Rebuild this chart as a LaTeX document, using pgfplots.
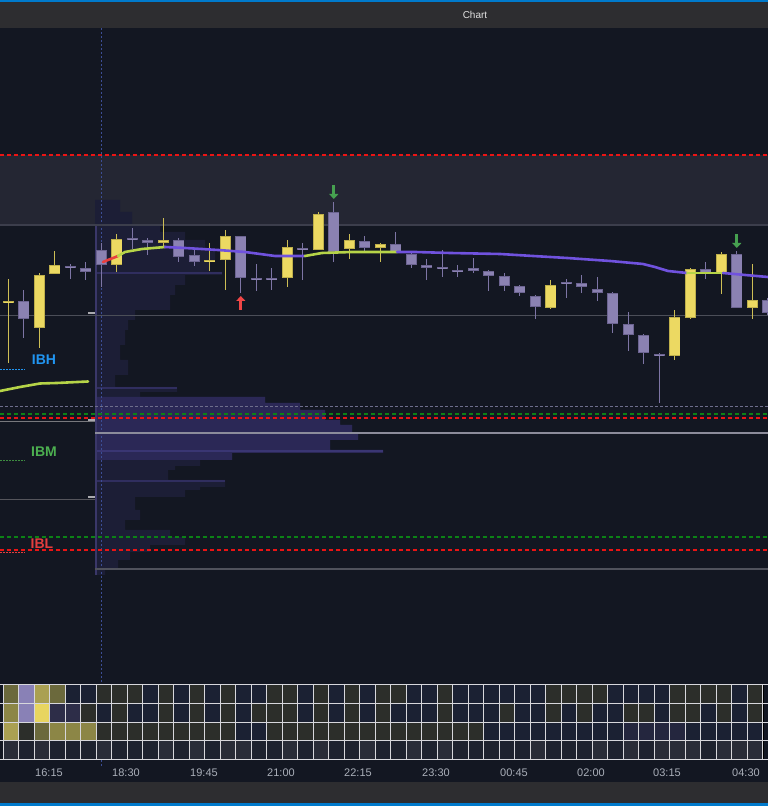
\documentclass[border=0pt]{standalone}
\usepackage{fontspec}
\setmainfont{Liberation Sans}
\usepackage{pgfplots}
\usepackage{pgfplotstable}
\pgfplotsset{compat=1.18}
\usetikzlibrary{arrows.meta}

\definecolor{bg}{RGB}{19,23,34}
\definecolor{barbg}{RGB}{45,45,48}
\definecolor{winblue}{RGB}{0,122,204}
\definecolor{band}{RGB}{36,38,51}
\definecolor{candY}{RGB}{236,217,98}
\definecolor{candP}{RGB}{139,130,178}
\definecolor{edgeY}{RGB}{190,175,75}
\definecolor{edgeP}{RGB}{108,100,145}
\definecolor{wickY}{RGB}{205,190,85}
\definecolor{wickP}{RGB}{125,117,165}
\definecolor{emaP}{RGB}{112,82,222}
\definecolor{emaG}{RGB}{182,212,72}
\definecolor{emaR}{RGB}{232,62,62}
\definecolor{lvlRed}{RGB}{235,20,20}
\definecolor{lvlGreen}{RGB}{12,130,22}
\definecolor{ibh}{RGB}{33,150,243}
\definecolor{ibm}{RGB}{76,175,80}
\definecolor{ibl}{RGB}{229,62,62}
\definecolor{prof}{RGB}{28,30,54}
\definecolor{profva}{RGB}{43,40,86}
\definecolor{gline}{RGB}{75,78,88}
\definecolor{ticktxt}{RGB}{170,175,185}

% candles, y = 806 - pixel row; bb/bt = body bottom/top, lo/hi = wick
\pgfplotstableread{
i  bb  bt  lo  hi
0  503 505 443 527
2  478 531 458 533
3  532 541 532 555
7  541 567 534 572
10 563 566 559 588
13 544 546 535 563
14 546 570 516 576
18 528 559 519 566
20 556 592 556 594
22 557 566 547 572
24 558 562 544 563
35 498 521 497 526
43 450 489 446 496
44 488 537 487 538
46 533 552 512 554
48 498 506 487 542
}\bull

\pgfplotstableread{
i  bb  bt  lo  hi
1  487 505 468 516
4  538 540 527 542
5  534 538 526 544
6  541 556 519 563
8  566 568 557 578
9  563 566 551 568
11 549 566 544 568
12 544 551 540 558
15 528 570 513 570
16 526 528 515 542
17 526 528 516 538
19 556 558 526 563
21 554 594 544 604
23 558 565 555 570
25 554 562 553 574
26 541 552 538 554
27 538 541 526 547
28 537 539 529 556
29 534 536 529 541
30 535 538 533 548
31 530 535 515 536
32 520 530 515 533
33 513 520 510 521
34 499 510 487 511
36 522 524 508 527
37 519 523 513 531
38 513 517 505 529
39 482 513 473 514
40 471 482 455 494
41 453 471 442 472
42 450 452 403 453
45 533 537 527 544
47 498 552 498 555
49 493 506 491 508
}\bear

% heatmap cells, rows r0 (top) .. r3 (bottom)
\pgfplotstableread{
c  r0 r1 r2 r3
-1 U U Y G
0  M V Y H
1  L L O G
2  Y B M H
3  M P V G
4  N P V G
5  N O V G
6  O N O H
7  O O O G
8  O N O G
9  N N O G
10 O O O H
11 N N O G
12 O O O H
13 N N O G
14 O O O H
15 N N N H
16 N O N G
17 O O O G
18 O O O H
19 N N O G
20 O O O H
21 N N O G
22 O O O G
23 N N O H
24 O O O G
25 O N O G
26 N N O H
27 N N O G
28 O O O H
29 N N O G
30 N N O G
31 N N N G
32 N O N G
33 N N N G
34 N N N H
35 O O N G
36 O N N G
37 O O N G
38 O N N H
39 N N N G
40 N O Q H
41 N O Q G
42 N N Q H
43 O O Q H
44 O O N H
45 O N N G
46 O O N H
47 N N N H
48 O O N H
49 N N N G
}\heat

\pgfplotsset{
  candle/.style 2 args={draw=none, mark=none, forget plot,
    error bars/.cd, y dir=plus, y explicit, error mark=none,
    error bar style={draw=#1, line width=#2}},
  ema/.style={draw=#1, line width=2.6pt, line cap=round, line join=round},
  cell/.style={scatter, only marks, mark=square*, mark size=7.9pt,
    mark options={yscale=1.2}, scatter src=explicit symbolic}
}
\tikzset{
  lbl/.style={font=\fontsize{14}{14}\selectfont\bfseries},
  tlbl/.style={text=ticktxt, font=\fontsize{11}{11}\selectfont}
}

\begin{document}
\begin{tikzpicture}
% ---------- frame, levels, profile (pixel frame) ----------
\begin{axis}[at={(0pt,0pt)}, anchor=south west, width=768pt, height=806pt,
    scale only axis, hide axis, xmin=0, xmax=768, ymin=0, ymax=806]
  \addplot[fill=bg, draw=none] coordinates {(0,0) (768,0) (768,806) (0,806)} -- cycle;
  \addplot[fill=barbg, draw=none] coordinates {(0,778) (768,778) (768,806) (0,806)} -- cycle;
  \addplot[fill=winblue, draw=none] coordinates {(0,804) (768,804) (768,806) (0,806)} -- cycle;
  \addplot[fill=barbg, draw=none] coordinates {(0,0) (768,0) (768,24) (0,24)} -- cycle;
  \addplot[fill=winblue, draw=none] coordinates {(0,0) (768,0) (768,2.5) (0,2.5)} -- cycle;
  % upper band
  \addplot[fill=band, draw=none] coordinates {(0,581) (768,581) (768,651) (0,651)} -- cycle;
  % volume profile
  \addplot[fill=prof, draw=none] coordinates {
    (95,606) (120,606) (120,594) (132,594) (132,581) (160,581) (160,574)
    (185,574) (185,566) (205,566) (205,556) (215,556) (215,544) (210,544)
    (210,534) (222,534) (222,531) (185,531) (185,521) (175,521) (175,511)
    (170,511) (170,496) (135,496) (135,486) (128,486) (128,476) (125,476)
    (125,461) (120,461) (120,446) (128,446) (128,431) (115,431) (115,419)
    (177,419) (177,414) (140,414) (140,409) (265,409) (265,403) (300,403)
    (300,396) (325,396) (325,386) (340,386) (340,381) (352,381) (352,373)
    (358,373) (358,366) (330,366) (330,356) (383,356) (383,353) (232,353)
    (232,346) (200,346) (200,340) (175,340) (175,336) (168,336) (168,326)
    (225,326) (225,319) (200,319) (200,316) (185,316) (185,309) (135,309)
    (135,296) (140,296) (140,286) (125,286) (125,276) (170,276) (170,269)
    (185,269) (185,261) (150,261) (150,254) (130,254) (130,246) (118,246)
    (118,236) (105,236) (105,231) (95,231)} -- cycle;
  \addplot[fill=profva, draw=none] coordinates {
    (96,409) (265,409) (265,403) (300,403) (300,396) (325,396) (325,386)
    (340,386) (340,381) (352,381) (352,373) (358,373) (358,366) (330,366)
    (330,356) (383,356) (383,353) (232,353) (232,346) (96,346)} -- cycle;
  % brighter rows inside the profile
  \addplot[draw={rgb,255:red,48;green,46;blue,95}, line width=1.5pt] coordinates {(96,533) (222,533)};
  \addplot[draw={rgb,255:red,48;green,46;blue,95}, line width=1.5pt] coordinates {(96,418) (177,418)};
  \addplot[draw={rgb,255:red,58;green,54;blue,115}, line width=1.5pt] coordinates {(96,355) (383,355)};
  \addplot[draw={rgb,255:red,48;green,46;blue,95}, line width=1.5pt] coordinates {(96,325) (225,325)};
  \addplot[draw={rgb,255:red,58;green,55;blue,105}, line width=1.5pt] coordinates {(96,231) (96,581)};
  % session divider
  \addplot[draw={rgb,255:red,60;green,78;blue,150}, dash pattern=on 2pt off 2pt, line width=1pt]
    coordinates {(101,40) (101,778)};
  % levels
  \addplot[draw=lvlRed, dash pattern=on 4pt off 3pt, line width=1.2pt] coordinates {(0,651) (768,651)};
  \addplot[draw={rgb,255:red,60;green,62;blue,76}, line width=1.5pt] coordinates {(0,581) (768,581)};
  \addplot[draw=gline, line width=1pt] coordinates {(0,490) (768,490)};
  \addplot[draw={rgb,255:red,110;green,110;blue,140}, dash pattern=on 3pt off 2pt, line width=0.8pt]
    coordinates {(0,400) (768,400)};
  \addplot[draw=lvlGreen, dash pattern=on 4pt off 3pt, line width=1.8pt] coordinates {(0,392) (768,392)};
  \addplot[draw=lvlRed, dash pattern=on 4pt off 3pt, line width=1.8pt] coordinates {(0,388) (768,388)};
  \addplot[draw={rgb,255:red,120;green,120;blue,125}, line width=1pt] coordinates {(0,384) (95,384)};
  \addplot[draw={rgb,255:red,140;green,140;blue,155}, line width=1.2pt] coordinates {(95,373) (768,373)};
  \addplot[draw={rgb,255:red,85;green,85;blue,92}, line width=1pt] coordinates {(0,306) (95,306)};
  \addplot[draw=lvlGreen, dash pattern=on 4pt off 3pt, line width=1.8pt] coordinates {(0,269) (768,269)};
  \addplot[draw=lvlRed, dash pattern=on 4pt off 3pt, line width=1.8pt] coordinates {(0,256) (768,256)};
  \addplot[draw={rgb,255:red,80;green,82;blue,92}, line width=1.2pt] coordinates {(95,237) (768,237)};
  % small markers at the profile edge
  \addplot[draw={rgb,255:red,170;green,170;blue,175}, line width=1.5pt] coordinates {(88,493) (95,493)};
  \addplot[draw={rgb,255:red,170;green,170;blue,175}, line width=1.5pt] coordinates {(88,386) (95,386)};
  \addplot[draw={rgb,255:red,170;green,170;blue,175}, line width=1.5pt] coordinates {(88,309) (95,309)};
  % IB markers
  \addplot[draw=ibh, dash pattern=on 1.5pt off 1.5pt, line width=1pt] coordinates {(0,436) (25,436)};
  \addplot[draw=ibm!80!black, dash pattern=on 1.5pt off 1.5pt, line width=1pt] coordinates {(0,345) (25,345)};
  \addplot[draw=ibl, dash pattern=on 1.5pt off 1.5pt, line width=1pt] coordinates {(0,253) (25,253)};
  \node[text=ibh, lbl] at (axis cs:44,446) {IBH};
  \node[text=ibm, lbl] at (axis cs:44,354) {IBM};
  \node[text=ibl, lbl] at (axis cs:42,262) {IBL};
  % title and time labels
  \node[text={rgb,255:red,225;green,225;blue,225}, font=\fontsize{10}{10}\selectfont] at (axis cs:475,791) {Chart};
  \node[tlbl] at (axis cs:49,33) {16:15};
  \node[tlbl] at (axis cs:126,33) {18:30};
  \node[tlbl] at (axis cs:204,33) {19:45};
  \node[tlbl] at (axis cs:281,33) {21:00};
  \node[tlbl] at (axis cs:358,33) {22:15};
  \node[tlbl] at (axis cs:436,33) {23:30};
  \node[tlbl] at (axis cs:514,33) {00:45};
  \node[tlbl] at (axis cs:591,33) {02:00};
  \node[tlbl] at (axis cs:667,33) {03:15};
  \node[tlbl] at (axis cs:746,33) {04:30};
\end{axis}

% ---------- heatmap ----------
\begin{axis}[at={(0pt,46.6pt)}, anchor=south west, width=768pt, height=74.7pt,
    scale only axis, xmin=-0.7125, xmax=48.836, ymin=-0.5, ymax=3.5,
    xtick={-0.5,0.5,...,48.5}, ytick={-0.5,0.5,...,3.5},
    xticklabels={}, yticklabels={}, major tick length=0pt,
    grid=major, major grid style={draw={rgb,255:red,215;green,215;blue,220}, line width=0.9pt},
    axis line style={draw=none}, axis on top, clip marker paths=true,
    scatter/classes={
      N={draw=none, fill={rgb,255:red,27;green,33;blue,51}},
      O={draw=none, fill={rgb,255:red,44;green,46;blue,42}},
      G={draw=none, fill={rgb,255:red,30;green,34;blue,47}},
      H={draw=none, fill={rgb,255:red,41;green,44;blue,56}},
      L={draw=none, fill={rgb,255:red,137;green,129;blue,182}},
      B={draw=none, fill={rgb,255:red,232;green,213;blue,96}},
      Y={draw=none, fill={rgb,255:red,170;green,160;blue,82}},
      M={draw=none, fill={rgb,255:red,107;green,105;blue,60}},
      P={draw=none, fill={rgb,255:red,45;green,45;blue,72}},
      V={draw=none, fill={rgb,255:red,140;green,134;blue,70}},
      Q={draw=none, fill={rgb,255:red,36;green,38;blue,62}},
      U={draw=none, fill={rgb,255:red,78;green,74;blue,112}}}]
  \addplot[cell] table[x=c, y expr=3, meta=r0] {\heat};
  \addplot[cell] table[x=c, y expr=2, meta=r1] {\heat};
  \addplot[cell] table[x=c, y expr=1, meta=r2] {\heat};
  \addplot[cell] table[x=c, y expr=0, meta=r3] {\heat};
\end{axis}

% ---------- candles, EMA, signals (candle index) ----------
\begin{axis}[at={(0pt,0pt)}, anchor=south west, width=768pt, height=806pt,
    scale only axis, hide axis, xmin=-0.5355, xmax=49.0129, ymin=0, ymax=806]
  % wicks
  \addplot[candle={wickY}{1.2pt}]
    table[x=i, y=lo, y error expr=\thisrow{hi}-\thisrow{lo}] {\bull};
  \addplot[candle={wickP}{1.2pt}]
    table[x=i, y=lo, y error expr=\thisrow{hi}-\thisrow{lo}] {\bear};
  % body edges
  \addplot[candle={edgeY}{11pt}]
    table[x=i, y=bb, y error expr=\thisrow{bt}-\thisrow{bb}] {\bull};
  \addplot[candle={edgeP}{11pt}]
    table[x=i, y=bb, y error expr=\thisrow{bt}-\thisrow{bb}] {\bear};
  % bodies
  \addplot[candle={candY}{9.4pt}]
    table[x=i, y expr=\thisrow{bb}+0.8, y error expr={max(\thisrow{bt}-\thisrow{bb}-1.6,0.4)}] {\bull};
  \addplot[candle={candP}{9.4pt}]
    table[x=i, y expr=\thisrow{bb}+0.8, y error expr={max(\thisrow{bt}-\thisrow{bb}-1.6,0.4)}] {\bear};
  % EMA
  \addplot[ema=emaG] coordinates {
    (-0.535,415) (0.755,419) (2.045,422.5) (3.14,423) (5.15,424.5)};
  \addplot[ema=emaR] coordinates {(6.11,544) (7.08,550)};
  \addplot[ema=emaG] coordinates {
    (7.08,550) (7.53,554) (8.63,557) (10.11,559)};
  \addplot[ema=emaP] coordinates {
    (10.11,559) (11.40,558) (13.53,556) (15.27,554) (17.21,550) (19.14,550)};
  \addplot[ema=emaG] coordinates {
    (19.14,550) (20.24,553) (22.17,554) (25.08,554)};
  \addplot[ema=emaP] coordinates {
    (25.08,554) (26.24,554) (28.50,553) (31.72,552) (33.85,550) (36.05,548)
    (38.82,545) (40.95,542) (41.72,539) (42.56,535) (43.79,533)};
  \addplot[ema=emaG] coordinates {(43.79,533) (46.11,533)};
  \addplot[ema=emaP] coordinates {(46.11,533) (47.53,531) (49.01,529)};
  % signal arrows
  \addplot[draw={rgb,255:red,240;green,70;blue,70}, line width=2.8pt,
    -{Triangle[length=5pt, width=9pt]}] coordinates {(15,496) (15,510)};
  \addplot[draw={rgb,255:red,70;green,160;blue,80}, line width=2.8pt,
    -{Triangle[length=5pt, width=9pt]}] coordinates {(21,621) (21,607)};
  \addplot[draw={rgb,255:red,70;green,160;blue,80}, line width=2.8pt,
    -{Triangle[length=5pt, width=9pt]}] coordinates {(47,572) (47,558)};
\end{axis}
\pgfresetboundingbox
\path[use as bounding box] (0pt,0pt) rectangle (768pt,806pt);
\end{tikzpicture}
\end{document}
